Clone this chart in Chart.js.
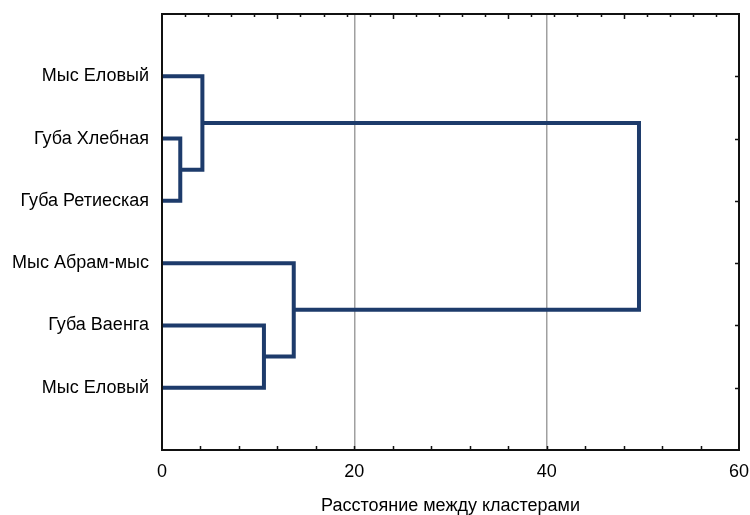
<!DOCTYPE html>
<html><head><meta charset="utf-8">
<script src="https://cdn.jsdelivr.net/npm/chart.js@4/dist/chart.umd.min.js"></script>
<style>html,body{margin:0;padding:0;background:#fff}</style>
</head><body>
<canvas id="c" width="750" height="515"></canvas>
<script>
// Leaves (top to bottom)
const leafLabels = ["Мыс Еловый", "Губа Хлебная", "Губа Ретиеская", "Мыс Абрам-мыс", "Губа Ваенга", "Мыс Еловый"];
// Merges: indices < 6 are leaves, 6+k is the cluster formed by merge k
const mergeLeft = [1, 4, 0, 3, 8];
const mergeRight = [2, 5, 6, 7, 9];
const mergeDistance = [1.9, 10.6, 4.2, 13.7, 49.6];
const xTickValues = [0, 20, 40, 60];
const gridValues = [20, 40];
const xTitle = "Расстояние между кластерами";

const FONT = "'Liberation Sans', Arial, sans-serif";
const LINE = "#1d3b6b";

const nLeaf = leafLabels.length;
const nodeY = leafLabels.map((_, i) => i + 1);
const nodeX = leafLabels.map(() => 0);
const datasets = [];
mergeDistance.forEach((d, k) => {
  const a = mergeLeft[k], b = mergeRight[k];
  datasets.push({
    data: [
      {x: nodeX[a], y: nodeY[a]},
      {x: d, y: nodeY[a]},
      {x: d, y: nodeY[b]},
      {x: nodeX[b], y: nodeY[b]}
    ],
    showLine: true, borderColor: LINE, borderWidth: 4,
    pointRadius: 0, pointHoverRadius: 0, fill: false, tension: 0
  });
  nodeY.push((nodeY[a] + nodeY[b]) / 2);
  nodeX.push(d);
});

const framePlugin = {
  id: 'frame',
  afterDatasetsDraw(chart) {
    const {ctx, chartArea: ca, scales} = chart;
    const xs = scales.x, ys = scales.y;
    ctx.save();
    ctx.strokeStyle = '#111';
    ctx.lineWidth = 1.5;
    ctx.beginPath();
    for (let v = 4; v < 60; v += 4) {
      const px = Math.round(xs.getPixelForValue(v)) + 0.5;
      ctx.moveTo(px, ca.bottom); ctx.lineTo(px, ca.bottom - 4);
    }
    for (let k = 1; k < 25; k++) {
      const px = Math.round(xs.getPixelForValue(k * 2.4)) + 0.5;
      ctx.moveTo(px, ca.top); ctx.lineTo(px, ca.top + (k % 5 === 0 ? 5 : 3));
    }
    for (let i = 1; i <= nLeaf; i++) {
      const py = Math.round(ys.getPixelForValue(i)) + 0.5;
      ctx.moveTo(ca.right, py); ctx.lineTo(ca.right - 4, py);
    }
    ctx.stroke();
    ctx.lineWidth = 2;
    ctx.strokeRect(ca.left, ca.top, ca.right - ca.left, ca.bottom - ca.top);
    ctx.restore();
  }
};

new Chart(document.getElementById('c'), {
  type: 'scatter',
  data: {datasets},
  plugins: [framePlugin],
  options: {
    responsive: false, animation: false, devicePixelRatio: 1,
    layout: {padding: {left: 0, right: 11, top: 14, bottom: 0}},
    plugins: {legend: {display: false}, tooltip: {enabled: false}},
    scales: {
      x: {
        type: 'linear', min: 0, max: 60,
        afterBuildTicks: s => { s.ticks = xTickValues.map(v => ({value: v})); },
        afterFit: s => { s.height = 65; s.paddingLeft = 0; s.paddingRight = 0; },
        ticks: {color: '#000', font: {family: FONT, size: 18}, padding: 11, maxRotation: 0},
        grid: {
          drawTicks: false,
          color: c => gridValues.includes(c.tick && c.tick.value) ? '#a0a0a0' : 'rgba(0,0,0,0)',
          lineWidth: 1.5
        },
        border: {display: false},
        title: {display: true, text: xTitle, color: '#000', font: {family: FONT, size: 18}, padding: {top: 0, bottom: -2}}
      },
      y: {
        type: 'linear', reverse: true, min: 0, max: 7,
        afterBuildTicks: s => { s.ticks = leafLabels.map((_, i) => ({value: i + 1})); },
        afterFit: s => { s.width = 162; s.paddingTop = 0; s.paddingBottom = 0; },
        ticks: {color: '#000', font: {family: FONT, size: 18}, padding: 13,
          callback: v => leafLabels[v - 1]},
        grid: {display: false, drawTicks: false},
        border: {display: false}
      }
    }
  }
});
</script>
</body></html>
